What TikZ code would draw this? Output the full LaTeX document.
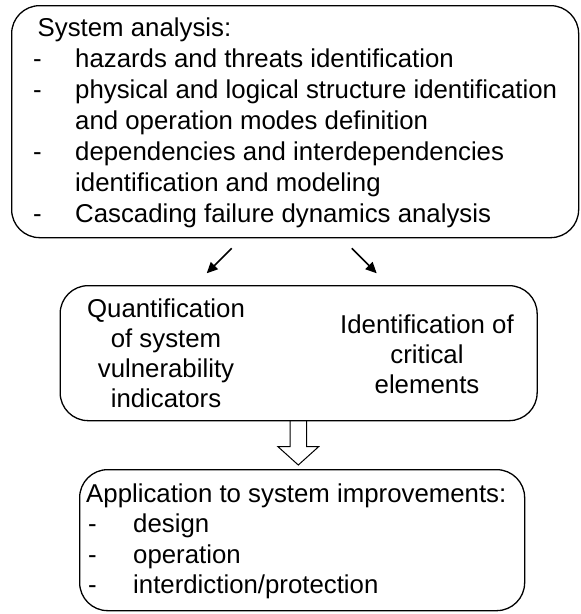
\documentclass[tikz,border=0pt]{standalone}
\usepackage{fontspec}
\setmainfont{Liberation Sans}
\usetikzlibrary{arrows.meta}
\tikzset{
  box/.style={draw, line width=1.3pt, rounded corners=28pt, inner sep=0pt, anchor=north west},
  txt/.style={inner sep=0pt, anchor=base west, font=\fontsize{25.8}{31}\selectfont},
  ctxt/.style={inner sep=0pt, anchor=base, font=\fontsize{25.8}{31}\selectfont},
  arr/.style={line width=1.6pt, -{Triangle[length=11pt,width=10pt]}},
  blockarr/.style={draw, line width=1pt, fill=white}
}
\begin{document}
\begin{tikzpicture}[x=1pt,y=-1pt]
\useasboundingbox (0,0) rectangle (581,614);
% boxes
\node[box, minimum width=567pt, minimum height=232pt] (b1) at (11,5) {};
\node[box, minimum width=477pt, minimum height=135pt] (b2) at (59.5,285) {};
\node[box, minimum width=445pt, minimum height=141pt] (b3) at (79,469) {};
% box 1 text
\node[txt] (t10) at (37.5,36) {System analysis:};
\node[txt] (d11) at (33,67) {-};
\node[txt] (t11) at (75,67) {hazards and threats identification};
\node[txt] (d12) at (33,98) {-};
\node[txt] (t12) at (75,98) {physical and logical structure identification};
\node[txt] (t13) at (75,129) {and operation modes definition};
\node[txt] (d14) at (33,160) {-};
\node[txt] (t14) at (75,160) {dependencies and interdependencies};
\node[txt] (t15) at (75,191) {identification and modeling};
\node[txt] (d16) at (33,222) {-};
\node[txt] (t16) at (75,222) {Cascading failure dynamics analysis};
% arrows between box 1 and box 2
\coordinate (a1s) at (231.7,248.3);
\coordinate (a1e) at (206.7,273.3);
\coordinate (a2s) at (351.7,248.3);
\coordinate (a2e) at (376.7,273.3);
\draw[arr] (a1s) -- (a1e);
\draw[arr] (a2s) -- (a2e);
% box 2 text
\node[ctxt] (q1) at (166,317) {Quantification};
\node[ctxt] (q2) at (166,347) {of system};
\node[ctxt] (q3) at (166,377) {vulnerability};
\node[ctxt] (q4) at (166,407) {indicators};
\node[ctxt] (i1) at (427,333) {Identification of};
\node[ctxt] (i2) at (427,363) {critical};
\node[ctxt] (i3) at (427,393) {elements};
% block arrow
\draw[line width=1pt, line join=miter] (290,420) -- (290,446.7) -- (278,446.7) -- (298.3,465) -- (318.6,446.7) -- (306.6,446.7) -- (306.6,420);
% box 3 text
\node[txt] (t30) at (86,502) {Application to system improvements:};
\node[txt] (d31) at (88,532) {-};
\node[txt] (t31) at (133,532) {design};
\node[txt] (d32) at (88,563) {-};
\node[txt] (t32) at (133,563) {operation};
\node[txt] (d33) at (88,593) {-};
\node[txt] (t33) at (133,593) {interdiction/protection};
\end{tikzpicture}
\end{document}
